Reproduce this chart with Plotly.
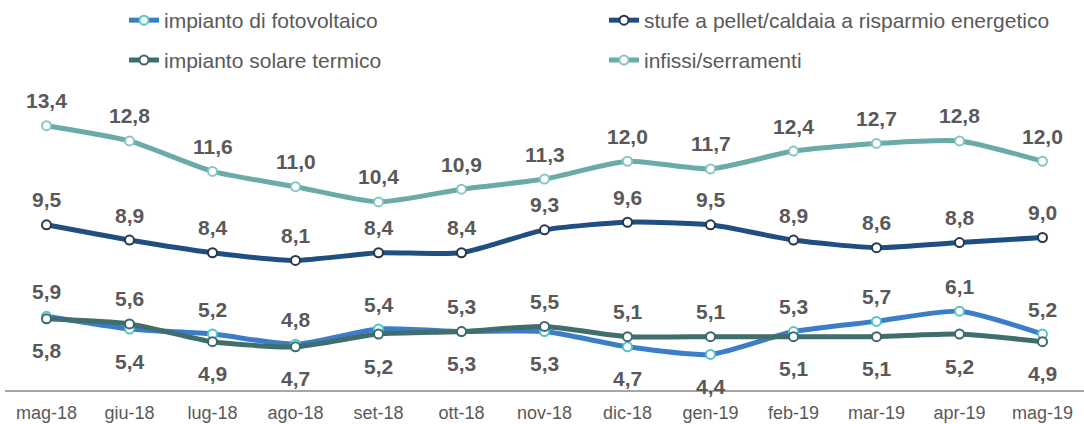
import plotly.graph_objects as go

months = ["mag-18", "giu-18", "lug-18", "ago-18", "set-18", "ott-18", "nov-18",
          "dic-18", "gen-19", "feb-19", "mar-19", "apr-19", "mag-19"]
fotovoltaico = [5.9, 5.4, 5.2, 4.8, 5.4, 5.3, 5.3, 4.7, 4.4, 5.3, 5.7, 6.1, 5.2]
stufe = [9.5, 8.9, 8.4, 8.1, 8.4, 8.4, 9.3, 9.6, 9.5, 8.9, 8.6, 8.8, 9.0]
solare = [5.8, 5.6, 4.9, 4.7, 5.2, 5.3, 5.5, 5.1, 5.1, 5.1, 5.1, 5.2, 4.9]
infissi = [13.4, 12.8, 11.6, 11.0, 10.4, 10.9, 11.3, 12.0, 11.7, 12.4, 12.7, 12.8, 12.0]

names = ["impianto di fotovoltaico", "stufe a pellet/caldaia a risparmio energetico",
         "impianto solare termico", "infissi/serramenti"]

series = [
    (names[0], fotovoltaico, "#3b7dc8", "#55c3c8", "legend"),
    (names[1], stufe, "#1f4e80", "#27384c", "legend"),
    (names[2], solare, "#3f6e6c", "#3c6a68", "legend2"),
    (names[3], infissi, "#6aaaa9", "#88c6c4", "legend2"),
]

fig = go.Figure()
for name, vals, col, mcol, leg in series:
    fig.add_trace(go.Scatter(
        x=months, y=vals, name=name, mode="lines+markers",
        line=dict(color=col, width=5, shape="spline", smoothing=0.6),
        marker=dict(size=9, color="white", line=dict(color=mcol, width=2)),
        legend=leg, hoverinfo="skip",
    ))

def fmt(v):
    return f"{v:.1f}".replace(".", ",")

label_font = dict(family="Liberation Sans, Arial", size=21, color="#595959")
annotations = []
for i, m in enumerate(months):
    for vals, above in [
        (stufe, True), (infissi, True),
        (fotovoltaico, fotovoltaico[i] >= solare[i]),
        (solare, solare[i] > fotovoltaico[i]),
    ]:
        annotations.append(dict(
            x=m, y=vals[i], xref="x", yref="y", text="<b>" + fmt(vals[i]) + "</b>",
            showarrow=False, font=label_font, yanchor="middle",
            yshift=25 if above else -32,
        ))

fig.update_layout(
    width=1084, height=424,
    margin=dict(l=5, r=0, t=85, b=34),
    paper_bgcolor="white", plot_bgcolor="white",
    font=dict(family="Liberation Sans, Arial", color="#595959"),
    annotations=annotations,
    showlegend=True,
    legend=dict(orientation="h", x=0.13, xanchor="left", y=1.0, yref="container",
                yanchor="top", entrywidth=435, entrywidthmode="pixels",
                font=dict(size=21, color="#595959"), bgcolor="rgba(0,0,0,0)"),
    legend2=dict(orientation="h", x=0.13, xanchor="left", y=0.906, yref="container",
                 yanchor="top", entrywidth=435, entrywidthmode="pixels",
                 font=dict(size=21, color="#595959"), bgcolor="rgba(0,0,0,0)"),
    xaxis=dict(type="category", range=[-0.5, 12.5], showgrid=False, zeroline=False,
               showline=True, linecolor="#a6a6a6", linewidth=2, ticks="",
               tickfont=dict(size=18, color="#595959"), ticklabelstandoff=5),
    yaxis=dict(range=[3, 15], visible=False, showgrid=False, zeroline=False),
)

fig.write_html("out.html", config={"displayModeBar": False},
               post_script="document.body.style.margin='0';document.body.style.overflow='hidden';")
